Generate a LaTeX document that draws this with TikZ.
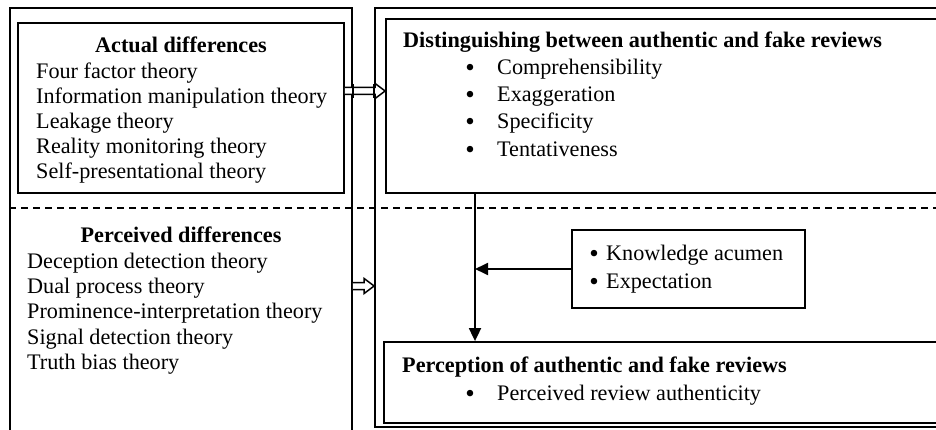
\documentclass[tikz,border=0pt]{standalone}
\usepackage{fontspec}
\setmainfont{Liberation Serif}
\usetikzlibrary{arrows.meta,calc}
\begin{document}
\begin{tikzpicture}[x=1pt,y=-1pt,
  box/.style={draw,line width=1.8pt,minimum width=#1},
  txt/.style={anchor=base west,inner sep=0pt,font=\fontsize{22.2}{25}\selectfont},
  ttl/.style={anchor=base,inner sep=0pt,font=\fontsize{22.2}{25}\selectfont\bfseries},
  ttlw/.style={anchor=base west,inner sep=0pt,font=\fontsize{22.2}{25}\selectfont\bfseries},
  bul/.style={anchor=base,inner sep=0pt,font=\fontsize{27}{25}\selectfont},
  conn/.style={line width=1.8pt,-{Triangle[length=13pt,width=12pt]}},
  harrow/.style={line width=1.5pt,fill=white,line join=miter},
  dline/.style={line width=1.8pt,dash pattern=on 7pt off 5pt}]
\useasboundingbox (0,0) rectangle (936,430);
\clip (0,0) rectangle (936,430);

% outer panels
\node[box=342pt,minimum height=432pt] (lpanel) at (181,224) {};
\node[box=585pt,minimum height=419pt] (rpanel) at (667.5,217.5) {};

% dashed separator
\draw[dline] (lpanel.west |- 0,208) -- (rpanel.east |- 0,208);

% inner boxes
\node[box=326pt,minimum height=170pt,fill=white] (actual) at (181,108) {};
\node[box=574pt,minimum height=174pt,fill=white] (dist) at (673,106) {};
\node[box=233pt,minimum height=78pt,fill=white] (know) at (688.5,269) {};
\node[box=576pt,minimum height=81pt,fill=white] (perc) at (672,382.5) {};

% Actual differences
\node[ttl] (at) at (181,53) {Actual differences};
\node[txt] (a1) at (36,79) {Four factor theory};
\node[txt] (a2) at (36,104) {Information manipulation theory};
\node[txt] (a3) at (36,129) {Leakage theory};
\node[txt] (a4) at (36,154) {Reality monitoring theory};
\node[txt] (a5) at (36,179) {Self-presentational theory};

% Perceived differences
\node[ttl] (pt) at (181,243) {Perceived differences};
\node[txt] (p1) at (27,268) {Deception detection theory};
\node[txt] (p2) at (27,293) {Dual process theory};
\node[txt] (p3) at (27,318) {Prominence-interpretation theory};
\node[txt] (p4) at (27,344) {Signal detection theory};
\node[txt] (p5) at (27,369) {Truth bias theory};

% Distinguishing
\node[ttlw] (dt) at (403,48) {Distinguishing between authentic and fake reviews};
\node[bul] (db1) at (470,77) {•};
\node[txt] (d1) at (497,75) {Comprehensibility};
\node[bul] (db2) at (470,104) {•};
\node[txt] (d2) at (497,102) {Exaggeration};
\node[bul] (db3) at (470,131) {•};
\node[txt] (d3) at (497,129) {Specificity};
\node[bul] (db4) at (470,159) {•};
\node[txt] (d4) at (497,157) {Tentativeness};

% Knowledge box
\node[bul] (kb1) at (594,262) {•};
\node[txt] (k1) at (606,260) {Knowledge acumen};
\node[bul] (kb2) at (594,290) {•};
\node[txt] (k2) at (606,288) {Expectation};

% Perception
\node[ttlw] (pct) at (402,372) {Perception of authentic and fake reviews};
\node[bul] (pcb) at (470,402) {•};
\node[txt] (pc1) at (497,400) {Perceived review authenticity};

% connectors
\draw[conn] (dist.south -| 475,0) -- (perc.north -| 475,0);
\draw[conn] (know.west) -- (know.west -| 475,0);

% hollow arrows
\path (actual.east |- 0,91) coordinate (h1s) (dist.west |- 0,91) coordinate (h1e);
\draw[harrow] ($(h1s)+(0,-3.5)$) -- ($(h1e)+(-10,-3.5)$) -- ($(h1e)+(-10,-7.5)$) -- (h1e)
  -- ($(h1e)+(-10,7.5)$) -- ($(h1e)+(-10,3.5)$) -- ($(h1s)+(0,3.5)$);
\draw[line width=1.5pt] (lpanel.east |- 0,84) -- (lpanel.east |- 0,98) (rpanel.west |- 0,84) -- (rpanel.west |- 0,98);
\path (lpanel.east |- 0,286) coordinate (h2s) (rpanel.west |- 0,286) coordinate (h2e);
\draw[harrow] ($(h2s)+(0,-3.5)$) -- ($(h2e)+(-10,-3.5)$) -- ($(h2e)+(-10,-7.5)$) -- (h2e)
  -- ($(h2e)+(-10,7.5)$) -- ($(h2e)+(-10,3.5)$) -- ($(h2s)+(0,3.5)$);
\end{tikzpicture}
\end{document}
